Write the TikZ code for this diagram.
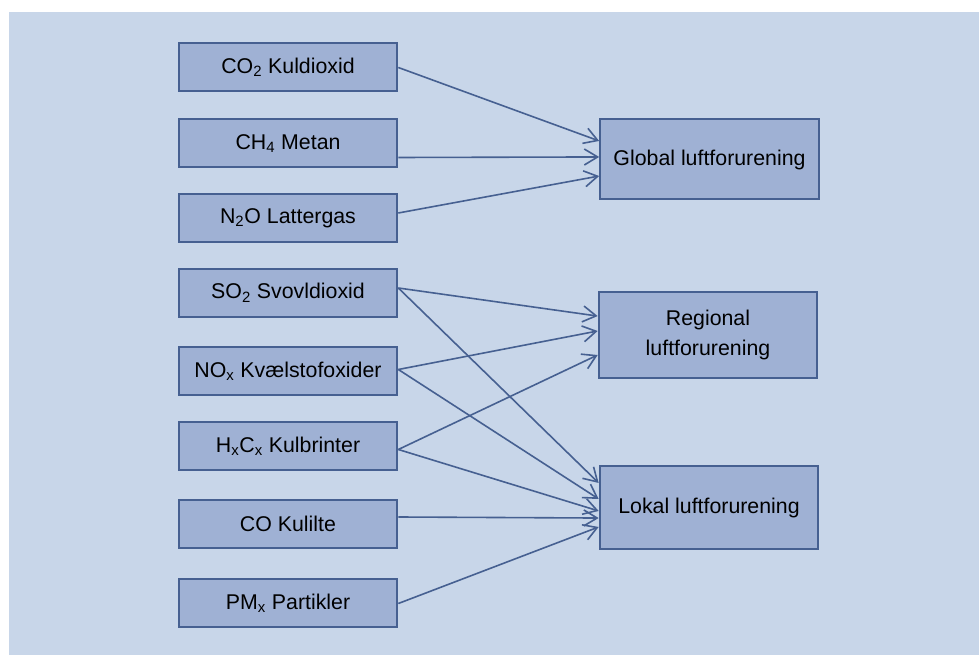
\documentclass[tikz,border=0pt]{standalone}
\usepackage{fontspec}
\setmainfont{Liberation Sans}
\usetikzlibrary{arrows.meta}
\definecolor{bgblue}{RGB}{200,214,233}
\definecolor{boxblue}{RGB}{159,177,212}
\definecolor{edgeblue}{RGB}{70,96,145}
\begin{document}
\begin{tikzpicture}[x=0.75pt, y=-0.75pt]

\tikzstyle{src}=[draw=edgeblue, fill=boxblue, line width=1.5pt, minimum width=164pt, minimum height=36pt, font=\fontsize{16}{22}\selectfont];
\tikzstyle{tgt}=[src, minimum width=164pt, align=center];
\tikzstyle{e}=[-{Straight Barb[length=10pt,width=12pt]}, draw=edgeblue, line width=1.2pt];

\useasboundingbox (0,0) rectangle (979,655);
\fill[bgblue] (9,12) rectangle (979,655);

\node[src] (co2) at (288,67.5) {CO\textsubscript{2} Kuldioxid};
\node[src] (ch4) at (288,143.5) {CH\textsubscript{4} Metan};
\node[src] (n2o) at (288,218) {N\textsubscript{2}O Lattergas};
\node[src] (so2) at (288,293) {SO\textsubscript{2} Svovldioxid};
\node[src] (nox) at (288,371.5) {NO\textsubscript{x} Kvælstofoxider};
\node[src] (hxcx) at (288,446.5) {H\textsubscript{x}C\textsubscript{x} Kulbrinter};
\node[src] (co) at (288,524) {CO Kulilte};
\node[src] (pm) at (288,603.5) {PM\textsubscript{x} Partikler};

\node[tgt, minimum height=60pt] (global) at (709.5,159.5) {Global luftforurening};
\node[tgt, minimum height=64pt] (regional) at (708,335) {Regional\\luftforurening};
\node[tgt, minimum height=62pt] (lokal) at (709,507.5) {Lokal luftforurening};

% global
\draw[e] (co2.east) -- ([yshift=13.9pt]global.west);
\draw[e] ([yshift=-10.5pt]ch4.east) -- ([yshift=1.9pt]global.west);
\draw[e] ([yshift=3.75pt]n2o.east) -- ([yshift=-12.4pt]global.west);

% regional
\draw[e] ([yshift=3.75pt]so2.east) -- ([yshift=14.2pt]regional.west);
\draw[e] ([yshift=1.5pt]nox.east) -- ([yshift=3pt]regional.west);
\draw[e] ([yshift=-2.25pt]hxcx.east) -- ([yshift=-15pt]regional.west);

% lokal
\draw[e] ([yshift=3.75pt]so2.east) -- ([yshift=18.4pt]lokal.west);
\draw[e] ([yshift=1.5pt]nox.east) -- ([yshift=6.4pt]lokal.west);
\draw[e] ([yshift=-2.25pt]hxcx.east) -- ([yshift=-2.6pt]lokal.west);
\draw[e] ([yshift=5.25pt]co.east) -- ([yshift=-7.9pt]lokal.west);
\draw[e] (pm.east) -- ([yshift=-14.6pt]lokal.west);
\end{tikzpicture}
\end{document}
